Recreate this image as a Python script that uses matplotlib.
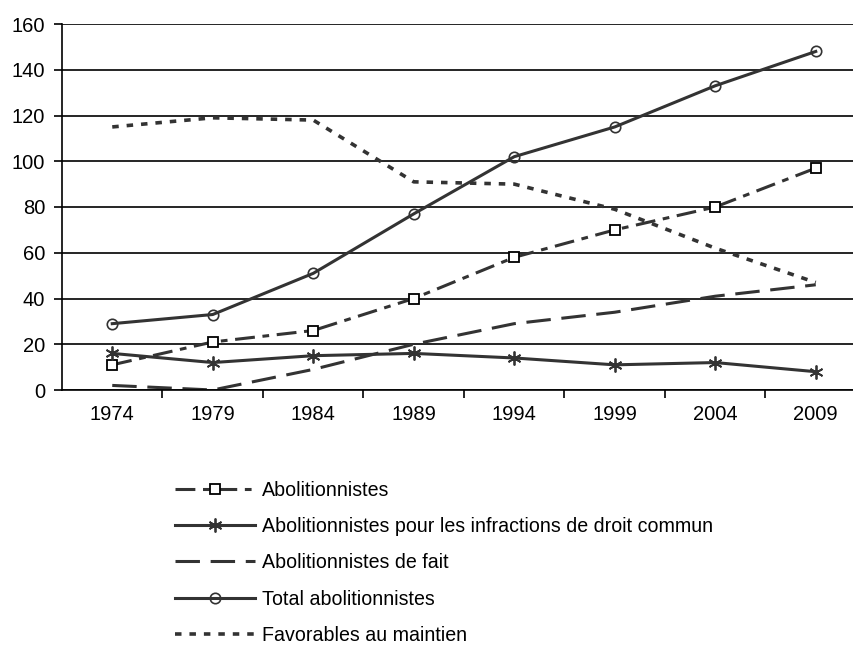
import numpy as np
import matplotlib.pyplot as plt

plt.rcParams['font.family'] = ['Liberation Sans', 'DejaVu Sans']

annees = ['1974', '1979', '1984', '1989', '1994', '1999', '2004', '2009']
abolitionnistes = [11, 21, 26, 40, 58, 70, 80, 97]
droit_commun = [16, 12, 15, 16, 14, 11, 12, 8]
de_fait = [2, 0, 9, 20, 29, 34, 41, 46]
total = [29, 33, 51, 77, 102, 115, 133, 148]
favorables = [115, 119, 118, 91, 90, 79, 62, 47]

fig = plt.figure(figsize=(8.54, 6.48), dpi=100)
ax = fig.add_axes([62/854, 1-390/648, 804/854, 366/648])

x = np.arange(len(annees))
col = '#333333'
lw = 2.2

l1, = ax.plot(x, abolitionnistes, color=col, lw=lw, dashes=(6.5, 2.5, 2.2, 2.5),
              marker='s', ms=7.5, mfc='white', mec='black', mew=1.3,
              label='Abolitionnistes')
l2, = ax.plot(x, droit_commun, color=col, lw=lw, marker=(6, 2, 0), ms=10,
              mec=col, mew=1.3, label='Abolitionnistes pour les infractions de droit commun')
l3, = ax.plot(x, de_fait, color=col, lw=lw, dashes=(8, 3.5),
              label='Abolitionnistes de fait')
l4, = ax.plot(x, total, color=col, lw=lw, marker='o', ms=7.5, mfc='none',
              mec=col, mew=1.2, label='Total abolitionnistes')
l5, = ax.plot(x, favorables, color=col, lw=2.6, dashes=(1.8, 2.2),
              label='Favorables au maintien')

ax.set_xlim(-0.5, 7.5)
ax.set_ylim(0, 160)
ax.set_yticks(np.arange(0, 161, 20))
ax.set_xticks(x)
ax.set_xticklabels(annees)
ax.set_xticks(np.arange(0.5, 7.5, 1), minor=True)
ax.tick_params(axis='x', which='major', length=0, pad=11, labelsize=14.5)
ax.tick_params(axis='x', which='minor', length=6, width=1.2, direction='out')
ax.tick_params(axis='y', length=6, width=1.2, labelsize=14.5, pad=6)
ax.yaxis.grid(True, color='black', lw=1.2)
ax.set_axisbelow(True)
for s in ['top', 'right']:
    ax.spines[s].set_visible(False)
ax.spines['left'].set_linewidth(1.2)
ax.spines['bottom'].set_linewidth(1.2)

fig.legend(handles=[l1, l2, l3, l4, l5], loc='upper left',
           bbox_to_anchor=(167/854, 1-473/648), frameon=False,
           fontsize=14.1, handlelength=4.1, handletextpad=0.35,
           labelspacing=0.88, borderaxespad=0)

fig.savefig('out.png', dpi=100)
